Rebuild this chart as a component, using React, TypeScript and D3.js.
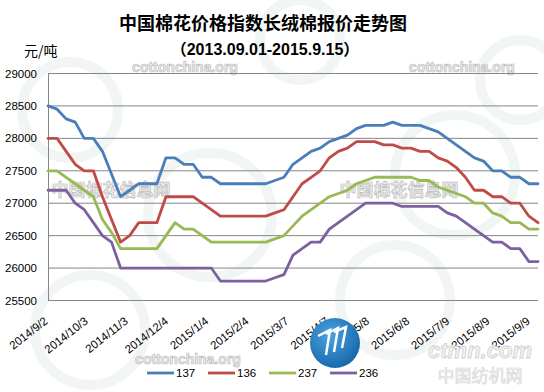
import React from 'react';
import * as d3 from 'd3';

// weekly quotes, 2014/9/2 .. 2015/9/15
const startDate = new Date(2014, 8, 2);
const endDate = new Date(2015, 8, 15);

const s137 = [28500, 28450, 28300, 28250, 28000, 28000, 27800, 27450, 27100, 27200, 27300, 27300, 27300, 27700, 27700, 27600, 27600, 27400, 27400, 27300, 27300, 27300, 27300, 27300, 27300, 27350, 27400, 27600, 27700, 27800, 27850, 27950, 28000, 28050, 28150, 28200, 28200, 28200, 28250, 28200, 28200, 28200, 28150, 28100, 28000, 27900, 27800, 27700, 27650, 27500, 27500, 27400, 27400, 27300, 27300];
const s136 = [28000, 28000, 27800, 27600, 27500, 27500, 27100, 26750, 26400, 26500, 26700, 26700, 26700, 27100, 27100, 27100, 27100, 27000, 26900, 26800, 26800, 26800, 26800, 26800, 26800, 26850, 26900, 27100, 27300, 27400, 27500, 27700, 27800, 27850, 27950, 27950, 27950, 27900, 27900, 27850, 27850, 27800, 27800, 27700, 27650, 27550, 27400, 27200, 27200, 27100, 27100, 27000, 27000, 26800, 26700];
const s237 = [27500, 27500, 27400, 27300, 27200, 27100, 26750, 26550, 26300, 26300, 26300, 26300, 26300, 26500, 26700, 26600, 26600, 26500, 26400, 26400, 26400, 26400, 26400, 26400, 26400, 26450, 26500, 26650, 26800, 26900, 27000, 27100, 27150, 27200, 27300, 27350, 27400, 27400, 27400, 27400, 27400, 27350, 27350, 27250, 27200, 27150, 27100, 27000, 27000, 26850, 26800, 26700, 26700, 26600, 26600];
const s236 = [27200, 27200, 27200, 27000, 26900, 26700, 26500, 26400, 26000, 26000, 26000, 26000, 26000, 26000, 26000, 26000, 26000, 26000, 26000, 25800, 25800, 25800, 25800, 25800, 25800, 25850, 25900, 26200, 26300, 26400, 26400, 26600, 26700, 26800, 26900, 27000, 27000, 27000, 27000, 26950, 26950, 26950, 26950, 26950, 26850, 26800, 26700, 26600, 26500, 26400, 26400, 26300, 26300, 26100, 26100];

const seriesNames = ['137', '136', '237', '236'];
const seriesColors = ['#4A7EBB', '#BE4B48', '#98B954', '#7D60A0'];
const yTicks = [25500, 26000, 26500, 27000, 27500, 28000, 28500, 29000];
const xTickLabels = ['2014/9/2', '2014/10/3', '2014/11/3', '2014/12/4', '2015/1/4', '2015/2/4', '2015/3/7', '2015/4/7', '2015/5/8', '2015/6/8', '2015/7/9', '2015/8/9', '2015/9/9'];

const W = 544;
const H = 392;

const parseLabel = (s: string) => {
  const [y, m, d] = s.split('/').map(Number);
  return new Date(y, m - 1, d);
};

export default function App() {
  const allSeries = [s137, s136, s237, s236];
  const dates = s137.map((_, i) => d3.timeDay.offset(startDate, i * 7));

  const x = d3.scaleTime().domain([startDate, endDate]).range([48, 538]);
  const y = d3.scaleLinear().domain([25500, 29000]).range([300.5, 73.5]);

  const line = d3.line<number>()
    .x((_, i) => x(dates[i]))
    .y(d => y(d));

  const wmStyle = { fill: '#eeeeee', stroke: '#bdbdbd', strokeWidth: 0.7 } as const;

  return (
    <svg width={W} height={H} style={{ position: 'absolute', left: 0, top: 0, background: '#fff' }}
      fontFamily="'Liberation Sans', Arial, sans-serif">
      <defs>
        <radialGradient id="logo" cx="40%" cy="35%" r="70%">
          <stop offset="0%" stopColor="#4aa3e0" />
          <stop offset="100%" stopColor="#1565a8" />
        </radialGradient>
      </defs>

      {/* faint background rings */}
      <g fill="none" stroke="#f1f5f3" strokeWidth={10}>
        <circle cx={70} cy={110} r={48} />
        <circle cx={300} cy={40} r={40} />
        <circle cx={210} cy={215} r={62} />
        <circle cx={455} cy={175} r={60} />
        <circle cx={90} cy={330} r={55} />
        <circle cx={395} cy={300} r={55} />
        <circle cx={520} cy={80} r={40} />
      </g>

      <text x={263} y={30} textAnchor="middle" fontSize={18} fontWeight="bold"
        fontFamily="'Noto Sans CJK SC', sans-serif" fill="#000">中国棉花价格指数长绒棉报价走势图</text>
      <text x={265} y={55} textAnchor="middle" fontSize={16} fontWeight="bold" fill="#000">
        <tspan fontFamily="'Noto Sans CJK SC', sans-serif">（</tspan>2013.09.01-2015.9.15<tspan fontFamily="'Noto Sans CJK SC', sans-serif">）</tspan>
      </text>
      <text x={24} y={56} fontSize={14} fontFamily="'Noto Sans CJK SC', sans-serif" fill="#000">元/吨</text>

      {/* watermarks */}
      <g fontSize={14} fontWeight="bold" style={wmStyle}>
        <text x={185} y={72} textAnchor="middle">cottonchina.org</text>
        <text x={462} y={72} textAnchor="middle">cottonchina.org</text>
        <text x={188} y={364} textAnchor="middle">cottonchina.org</text>
      </g>
      <g fontSize={17} fontWeight="bold" fontFamily="'Noto Sans CJK SC', sans-serif" style={wmStyle}>
        <text x={111} y={196} textAnchor="middle">中国棉花信息网</text>
        <text x={399} y={196} textAnchor="middle">中国棉花信息网</text>
      </g>

      {/* grid */}
      {yTicks.map(t => (
        <g key={t}>
          <line x1={48} x2={538} y1={y(t)} y2={y(t)} stroke="#868686" strokeWidth={1} />
          <text x={37} y={y(t) + 4} textAnchor="end" fontSize={11.5} fill="#000">{t}</text>
        </g>
      ))}
      <line x1={48.5} x2={48.5} y1={73} y2={301} stroke="#868686" strokeWidth={1} />

      {/* x labels */}
      {xTickLabels.map(l => {
        const px = x(parseLabel(l));
        return (
          <text key={l} transform={`translate(${px + 0.5},${322.5}) rotate(-38)`} textAnchor="end"
            fontSize={11.5} fill="#000">{l}</text>
        );
      })}

      {/* series */}
      {allSeries.map((s, k) => (
        <path key={seriesNames[k]} d={line(s) ?? ''} fill="none" stroke={seriesColors[k]}
          strokeWidth={2.8} strokeLinejoin="round" strokeLinecap="round" />
      ))}

      {/* logo + corner mark */}
      <circle cx={335} cy={343} r={25} fill="url(#logo)" />
      <g stroke="#fff" strokeWidth={2.5} fill="none">
        <path d="M318 336 L330 330 L326 355" />
        <path d="M326 334 L338 328 L334 352" />
        <path d="M334 332 L346 327 L342 348" />
      </g>
      <text x={480} y={358} textAnchor="middle" fontSize={22} fontWeight="bold" fontStyle="italic" style={{ fill: '#f2f2f2', stroke: '#d0d0d0', strokeWidth: 0.8 }}>ctmn.com</text>
      <text x={480} y={382} textAnchor="middle" fontSize={17} fontFamily="'Noto Sans CJK SC', sans-serif" style={{ fill: '#f2f2f2', stroke: '#d6d6d6', strokeWidth: 0.6 }}>中国纺机网</text>

      {/* legend */}
      {seriesNames.map((n, i) => {
        const lx = 147 + i * 61;
        return (
          <g key={n}>
            <line x1={lx} x2={lx + 27} y1={373} y2={373} stroke={seriesColors[i]} strokeWidth={2.8} />
            <text x={lx + 29} y={377} fontSize={11.5} fill="#000">{n}</text>
          </g>
        );
      })}
    </svg>
  );
}
